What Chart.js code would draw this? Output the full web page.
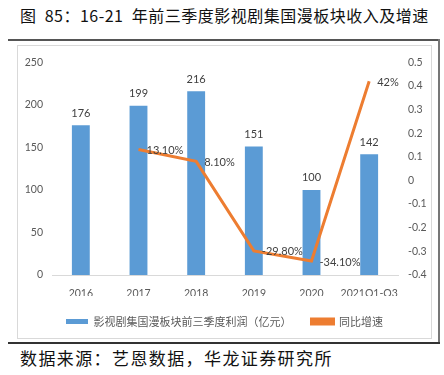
<!DOCTYPE html>
<html><head><meta charset="utf-8">
<script src="https://cdn.jsdelivr.net/npm/chart.js@4"></script>
<style>
html,body{margin:0;padding:0;background:#fff;width:444px;height:375px;overflow:hidden;position:relative;}
#title{position:absolute;left:20px;top:3px;font:16px "Noto Sans CJK SC";letter-spacing:0.5px;color:#111;white-space:pre;}
#foot{position:absolute;left:20px;top:345px;font:17px "Noto Sans CJK SC";letter-spacing:1.4px;color:#111;white-space:nowrap;}
#lt{position:absolute;left:8px;top:39px;width:432px;height:2px;background:#555;}
#lb{position:absolute;left:8px;top:342px;width:432px;height:2px;background:#333;}
#lr{position:absolute;left:438px;top:39px;width:2px;height:305px;background:#777;}
#box{position:absolute;left:17px;top:45px;width:413px;height:292px;border:1px solid #D9D9D9;}
#wrap{position:absolute;left:18px;top:46px;width:413px;height:292px;}
</style></head>
<body>
<div id="title">图  85：16-21  年前三季度影视剧集国漫板块收入及增速</div>
<div id="lt"></div><div id="lr"></div><div id="lb"></div>
<div id="box"></div>
<div id="wrap"><canvas id="c" width="413" height="292"></canvas></div>
<div id="foot">数据来源：艺恩数据，华龙证券研究所</div>
<script>
const categories = ["2016","2017","2018","2019","2020","2021Q1-Q3"];
const profit = [176,199,216,151,100,142];
const growth = [null,0.131,0.081,-0.298,-0.341,0.42];
const growthLabels = [null,"13.10%","8.10%","-29.80%","-34.10%","42%"];
const leftTicks = [0,50,100,150,200,250];
const rightTicks = [-0.4,-0.3,-0.2,-0.1,0,0.1,0.2,0.3,0.4,0.5];
const seriesNames = ["影视剧集国漫板块前三季度利润（亿元）","同比增速"];

const labelPlugin = {
  id:'labels',
  afterDatasetsDraw(chart){
    const ctx = chart.ctx;
    ctx.save();
    ctx.fillStyle = '#404040';
    ctx.font = '11px Lato, "Noto Sans CJK SC"';
    const m0 = chart.getDatasetMeta(0);
    ctx.textAlign='center'; ctx.textBaseline='middle';
    m0.data.forEach((el,i)=>{ ctx.fillText(String(profit[i]), el.x, el.y-12); });
    const m1 = chart.getDatasetMeta(1);
    ctx.textAlign='left';
    m1.data.forEach((el,i)=>{ if(growthLabels[i]) ctx.fillText(growthLabels[i], el.x+8, el.y+1); });
    ctx.restore();
  }
};

const tickFont = {size:10.5,family:'Lato'};
new Chart(document.getElementById('c'),{
  type:'bar',
  data:{labels:categories,datasets:[
    {type:'bar',label:seriesNames[0],data:profit,backgroundColor:'#5B9BD5',yAxisID:'y',categoryPercentage:1,barPercentage:0.31,order:2},
    {type:'line',label:seriesNames[1],data:growth,borderColor:'#ED7D31',backgroundColor:'#ED7D31',borderWidth:3,pointRadius:0,yAxisID:'y1',spanGaps:false,order:1,tension:0}
  ]},
  options:{
    responsive:false,animation:false,
    layout:{padding:{top:16,left:0,right:0,bottom:1}},
    plugins:{
      legend:{position:'bottom',labels:{boxWidth:22,boxHeight:5,padding:20,color:'#595959',font:{size:11,family:'"Noto Sans CJK SC"'},
        sort:(a,b)=>a.datasetIndex-b.datasetIndex}},
      tooltip:{enabled:false}
    },
    scales:{
      x:{grid:{display:false,drawTicks:false},border:{color:'#D9D9D9'},ticks:{color:'#595959',font:tickFont,padding:12,maxRotation:0,autoSkip:false},
         afterFit(s){s.height=21;}},
      y:{position:'left',min:0,max:250,grid:{display:false,drawTicks:false},border:{display:false},
         afterBuildTicks(s){s.ticks=leftTicks.map(v=>({value:v}));},
         ticks:{color:'#595959',font:tickFont,padding:9},
         afterFit(s){s.width=34;}},
      y1:{position:'right',min:-0.4,max:0.5,grid:{display:false,drawTicks:false},border:{display:false},
         afterBuildTicks(s){s.ticks=rightTicks.map(v=>({value:v}));},
         ticks:{color:'#595959',font:tickFont,padding:10,callback:v=>String(Math.round(v*10)/10)},
         afterFit(s){s.width=33;}}
    }
  },
  plugins:[labelPlugin]
});
</script>
</body></html>
